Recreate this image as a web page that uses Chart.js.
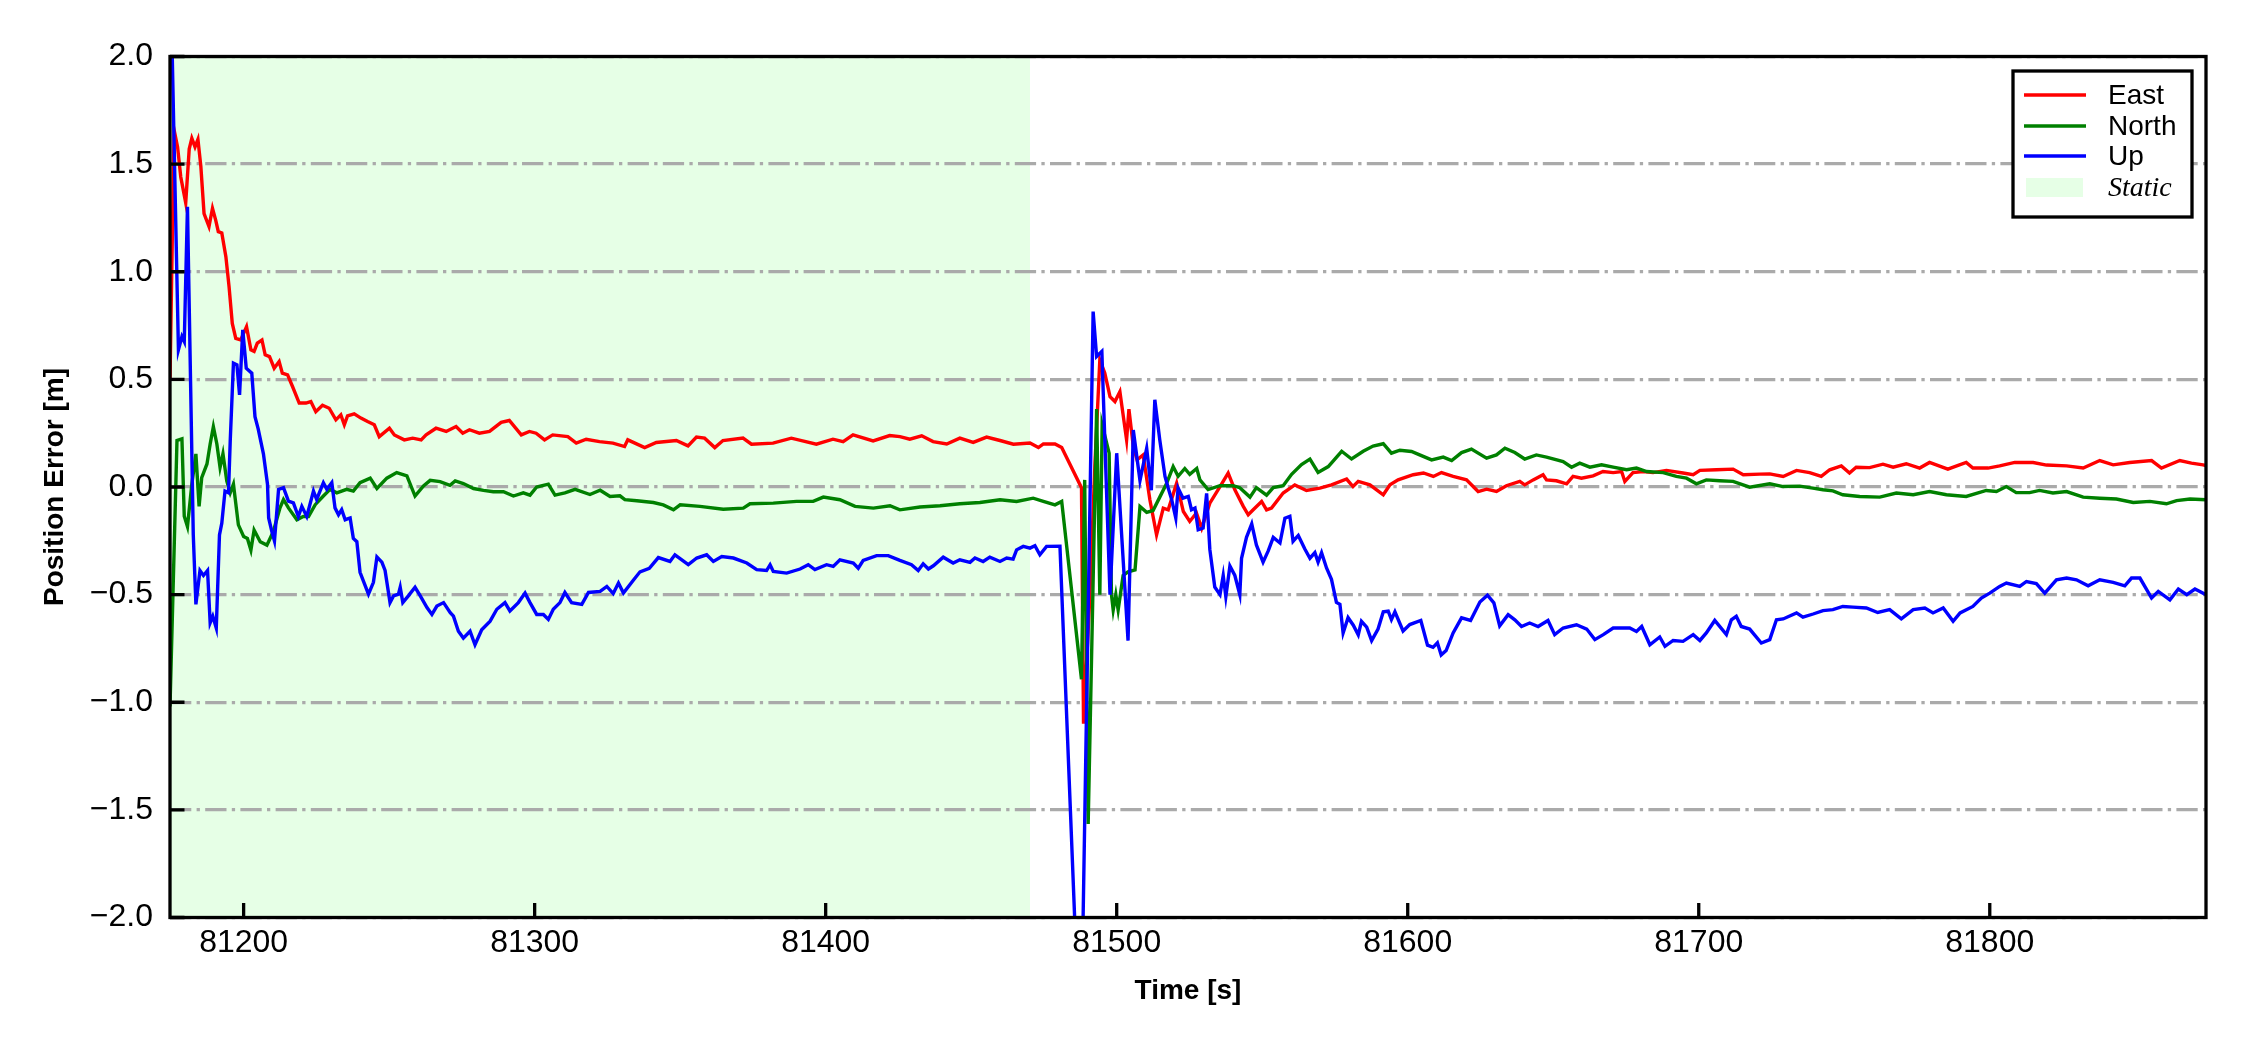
<!DOCTYPE html>
<html><head><meta charset="utf-8">
<script src="https://cdn.jsdelivr.net/npm/chart.js@4.4.1/dist/chart.umd.min.js"></script>
<style>html,body{margin:0;padding:0;background:#fff;}#wrap{width:2250px;height:1050px;}</style>
</head><body><div id="wrap"><canvas id="c" width="2250" height="1050"></canvas></div>
<script>
// ---------------- data ----------------
const eastT = [81174.7,81176.1,81177.3,81178.4,81180.1,81181.3,81182.2,81183.3,81184.3,81185.3,81186.4,81188.1,81189.3,81190.4,81191.3,81192.5,81193.9,81195.0,81196.1,81197.3,81199.0,81201.0,81202.5,81203.6,81204.7,81206.3,81207.4,81208.9,81210.5,81212.2,81213.3,81215.1,81216.8,81219.1,81221.4,81223.1,81224.8,81227.1,81229.4,81231.7,81233.4,81234.6,81235.7,81238.0,81240.3,81242.6,81244.9,81246.6,81250.1,81251.8,81255.2,81258.1,81261.0,81262.7,81266.1,81269.6,81273.0,81275.3,81277.6,81281.0,81284.5,81288.5,81291.3,81295.4,81298.2,81300.5,81303.4,81306.2,81311.4,81314.3,81317.7,81322.3,81326.9,81330.9,81332.0,81337.8,81341.8,81348.7,81352.7,81355.6,81358.4,81361.9,81364.7,81371.6,81374.5,81381.9,81388.2,81396.8,81402.5,81406.0,81409.4,81416.3,81422.0,81425.5,81428.9,81433.0,81436.9,81441.6,81446.1,81450.7,81455.3,81459.9,81464.5,81470.2,81473.1,81474.8,81478.8,81481.1,81487.9,81488.6,81490.8,81492.5,81494.2,81495.9,81497.7,81499.4,81501.1,81503.4,81504.2,81505.7,81507.0,81509.1,81511.4,81513.7,81516.0,81517.7,81520.6,81522.9,81525.1,81527.4,81529.2,81532.0,81535.5,81538.3,81540.6,81543.5,81545.2,81546.9,81549.8,81551.5,81553.2,81557.2,81561.2,81565.2,81569.8,81573.8,81579.0,81581.2,81583.0,81587.0,81591.6,81593.9,81596.7,81601.9,81605.4,81608.8,81611.6,81615.6,81620.2,81624.2,81627.1,81630.5,81633.9,81638.5,81640.2,81643.1,81646.5,81647.7,81651.1,81654.6,81656.8,81659.7,81663.7,81667.1,81670.6,81673.5,81674.6,81677.4,81680.9,81684.3,81688.9,81694.6,81698.1,81700.4,81706.1,81711.8,81715.3,81721.0,81724.4,81729.0,81733.6,81738.1,81742.1,81745.0,81749.0,81751.8,81754.1,81758.7,81763.3,81766.8,81771.3,81775.9,81779.3,81785.6,81791.9,81794.2,81799.4,81803.4,81808.6,81814.9,81819.5,81826.4,81832.1,81837.8,81842.4,81848.1,81855.6,81859.0,81865.3,81869.3,81873.3,81874.3];
const eastV = [0.50,1.66,1.58,1.44,1.32,1.57,1.62,1.58,1.615,1.49,1.27,1.21,1.295,1.24,1.186,1.18,1.07,0.93,0.76,0.69,0.683,0.745,0.637,0.63,0.668,0.683,0.614,0.606,0.552,0.583,0.529,0.521,0.467,0.39,0.39,0.397,0.35,0.38,0.366,0.312,0.335,0.289,0.33,0.34,0.32,0.304,0.289,0.234,0.273,0.242,0.219,0.227,0.219,0.242,0.273,0.258,0.281,0.25,0.266,0.25,0.258,0.30,0.309,0.242,0.258,0.25,0.219,0.242,0.234,0.204,0.222,0.211,0.204,0.188,0.219,0.183,0.207,0.216,0.191,0.232,0.227,0.183,0.216,0.227,0.199,0.204,0.227,0.199,0.222,0.211,0.242,0.214,0.239,0.234,0.222,0.238,0.211,0.20,0.227,0.207,0.232,0.216,0.199,0.204,0.183,0.20,0.20,0.183,-0.003,-1.10,-0.50,0.10,0.59,0.53,0.42,0.397,0.443,0.219,0.362,0.188,0.126,0.149,-0.059,-0.222,-0.098,-0.106,0.018,-0.114,-0.16,-0.121,-0.191,-0.075,0.002,0.065,-0.013,-0.09,-0.129,-0.106,-0.067,-0.106,-0.098,-0.028,0.01,-0.016,-0.005,0.01,0.037,0.002,0.026,0.01,-0.036,0.01,0.033,0.057,0.065,0.049,0.067,0.049,0.033,-0.021,-0.01,-0.021,0.006,0.026,0.01,0.033,0.057,0.033,0.029,0.015,0.049,0.041,0.052,0.072,0.067,0.072,0.026,0.067,0.072,0.067,0.077,0.065,0.057,0.077,0.08,0.083,0.057,0.06,0.061,0.049,0.077,0.067,0.049,0.08,0.098,0.065,0.092,0.09,0.106,0.092,0.108,0.088,0.114,0.083,0.114,0.088,0.088,0.098,0.114,0.114,0.102,0.098,0.088,0.123,0.103,0.114,0.123,0.088,0.123,0.111,0.103,0.10];

const northT = [81174.7,81177.1,81178.8,81179.6,81180.7,81182.2,81183.6,81184.7,81185.6,81187.4,81188.5,81189.6,81190.8,81191.9,81192.9,81194.2,81195.4,81196.5,81198.2,81200.0,81201.3,81202.5,81203.6,81205.7,81208.0,81210.2,81212.5,81213.7,81215.4,81218.3,81220.5,81222.3,81224.6,81227.4,81229.7,81232.0,81235.4,81237.7,81240.0,81243.5,81245.8,81249.2,81252.6,81256.1,81258.9,81261.8,81264.1,81267.5,81270.9,81272.7,81275.5,81279.0,81282.4,81285.8,81289.3,81292.7,81296.1,81298.4,81300.7,81304.7,81307.0,81310.4,81313.9,81319.0,81322.5,81325.9,81329.3,81331.0,81335.1,81340.8,81344.2,81347.7,81350.0,81356.8,81364.8,81371.7,81374.0,81382.0,81390.0,81395.7,81399.2,81404.9,81410.1,81416.4,81422.1,81425.5,81432.4,81439.3,81446.1,81453.0,81459.9,81465.6,81471.3,81474.8,81478.8,81481.1,81487.9,81489.0,81490.2,81493.1,81494.2,81495.0,81497.4,81498.2,81498.8,81499.7,81500.5,81502.2,81503.9,81506.3,81508.0,81510.3,81512.5,81514.8,81517.1,81519.4,81521.1,81523.4,81525.1,81527.5,81528.6,81531.4,81535.5,81540.0,81542.3,81545.8,81548.0,81551.5,81553.8,81557.2,81560.1,81563.5,81566.4,81569.2,81572.7,81577.3,81580.7,81584.7,81588.1,81591.6,81594.4,81597.3,81601.3,81604.1,81608.2,81612.2,81615.1,81618.5,81621.9,81627.1,81630.5,81633.4,81636.8,81640.2,81644.2,81647.7,81653.4,81656.3,81659.1,81662.6,81666.6,81670.6,81675.2,81678.6,81682.1,81687.8,81692.3,81695.8,81699.2,81702.6,81707.2,81711.8,81717.5,81724.4,81729.0,81734.7,81739.2,81742.7,81746.1,81749.5,81755.3,81762.2,81767.9,81773.7,81779.3,81785.1,81791.9,81798.8,81802.3,81805.7,81809.1,81813.7,81817.1,81821.7,81826.4,81832.1,81837.8,81843.5,81849.3,81855.0,81860.7,81864.2,81868.8,81874.3];
const northV = [-1.02,0.216,0.224,-0.136,-0.184,0.013,0.154,-0.09,0.044,0.107,0.20,0.28,0.20,0.091,0.154,0.028,-0.027,0.013,-0.176,-0.23,-0.239,-0.293,-0.20,-0.254,-0.27,-0.207,-0.097,-0.058,-0.097,-0.152,-0.137,-0.137,-0.082,-0.042,-0.011,-0.027,-0.011,-0.019,0.02,0.041,-0.007,0.041,0.067,0.052,-0.042,0.005,0.031,0.025,0.008,0.028,0.016,-0.007,-0.016,-0.022,-0.022,-0.042,-0.027,-0.038,0.0,0.013,-0.038,-0.027,-0.011,-0.035,-0.015,-0.044,-0.041,-0.059,-0.064,-0.072,-0.083,-0.106,-0.083,-0.09,-0.103,-0.098,-0.078,-0.075,-0.067,-0.067,-0.047,-0.059,-0.09,-0.098,-0.087,-0.106,-0.093,-0.087,-0.078,-0.072,-0.059,-0.067,-0.052,-0.067,-0.083,-0.067,-0.893,0.033,-1.566,0.362,-0.50,0.29,0.157,-0.50,-0.571,-0.50,-0.571,-0.411,-0.394,-0.385,-0.091,-0.118,-0.109,-0.047,0.015,0.095,0.05,0.086,0.059,0.086,0.033,-0.012,0.006,0.006,-0.003,-0.047,-0.003,-0.038,-0.003,0.006,0.059,0.104,0.13,0.068,0.095,0.166,0.13,0.166,0.19,0.201,0.157,0.171,0.165,0.149,0.126,0.139,0.123,0.16,0.176,0.134,0.149,0.18,0.16,0.13,0.149,0.139,0.118,0.092,0.111,0.092,0.103,0.092,0.08,0.088,0.072,0.067,0.049,0.041,0.015,0.033,0.029,0.026,-0.001,0.015,0.002,0.004,-0.005,-0.013,-0.018,-0.036,-0.044,-0.047,-0.028,-0.036,-0.021,-0.036,-0.044,-0.016,-0.021,0.002,-0.026,-0.026,-0.016,-0.028,-0.021,-0.047,-0.052,-0.056,-0.072,-0.067,-0.078,-0.063,-0.056,-0.059];

const upT = [81174.7,81177.6,81178.8,81179.6,81180.7,81182.7,81183.6,81185.0,81186.2,81187.6,81188.5,81189.4,81190.6,81191.7,81192.5,81193.6,81194.8,81195.4,81196.5,81197.7,81198.6,81199.7,81200.9,81202.8,81203.9,81205.0,81206.8,81208.2,81208.6,81209.7,81210.6,81212.0,81213.7,81215.4,81217.1,81218.8,81220.0,81221.7,81224.0,81225.1,81227.4,81228.6,81230.3,81231.4,81232.6,81233.7,81234.9,81236.6,81237.7,81238.9,81240.0,81242.9,81244.6,81245.8,81247.5,81248.6,81250.3,81251.5,81253.2,81253.8,81254.7,81256.6,81258.9,81260.7,81263.0,81264.7,81266.4,81268.7,81271.0,81272.1,81273.8,81275.5,81277.8,81279.5,81281.8,81284.7,81287.0,81289.8,81291.5,81294.4,81296.7,81298.4,81300.7,81303.0,81304.7,81306.4,81308.7,81310.4,81312.7,81316.2,81318.5,81322.5,81324.8,81327.0,81328.8,81330.5,81333.9,81336.2,81339.4,81342.5,81346.5,81348.2,81352.8,81355.7,81359.1,81361.4,81364.3,81368.3,81372.9,81376.3,81379.7,81380.9,81382.0,81386.6,81391.2,81394.0,81396.3,81400.3,81402.6,81404.9,81409.5,81411.2,81412.9,81417.5,81421.5,81425.5,81429.5,81431.8,81433.5,81435.3,81437.0,81440.4,81443.8,81446.1,81449.6,81451.3,81454.1,81456.4,81459.9,81462.2,81464.4,81465.6,81467.9,81470.2,81471.9,81473.6,81475.9,81480.5,81487.6,81491.9,81493.1,81494.9,81497.7,81500.0,81503.9,81505.7,81508.0,81510.3,81511.9,81513.1,81514.8,81516.6,81517.7,81518.9,81520.3,81521.1,81522.8,81524.6,81525.7,81526.9,81528.0,81529.7,81530.9,81532.0,81533.7,81535.5,81536.6,81537.5,81538.9,81540.6,81542.3,81542.9,81544.6,81546.4,81548.0,81550.3,81552.1,81553.8,81556.1,81557.8,81559.5,81560.6,81562.4,81564.6,81566.4,81568.1,81569.2,81570.4,81572.1,81573.8,81575.5,81576.7,81577.8,81579.5,81581.3,81583.0,81584.1,81585.9,81587.6,81589.8,81591.6,81593.3,81594.4,81595.6,81598.4,81600.7,81604.5,81606.8,81608.7,81610.2,81611.5,81613.2,81615.6,81618.5,81621.6,81624.8,81627.4,81629.6,81631.6,81634.5,81636.8,81639.1,81641.9,81644.8,81648.2,81650.5,81653.4,81658.0,81661.5,81664.3,81667.2,81670.6,81676.3,81678.6,81680.4,81683.2,81686.6,81688.4,81691.2,81694.6,81698.1,81700.4,81702.6,81705.5,81709.5,81711.2,81712.9,81714.6,81717.5,81721.5,81724.4,81726.7,81729.0,81733.6,81735.8,81739.3,81742.7,81746.1,81749.5,81753.0,81757.6,81761.5,81765.6,81769.6,81773.7,81777.7,81780.5,81784.0,81787.4,81789.8,81794.2,81797.1,81800.0,81803.4,81805.7,81810.3,81812.6,81816.0,81818.9,81822.9,81826.4,81829.8,81833.8,81837.8,81842.4,81846.4,81848.7,81851.6,81855.6,81857.9,81861.9,81864.8,81867.7,81870.5,81874.3];
const upV = [2.5,0.637,0.699,0.676,1.302,-0.223,-0.545,-0.388,-0.411,-0.388,-0.631,-0.60,-0.655,-0.223,-0.168,-0.019,-0.027,0.216,0.575,0.567,0.428,0.73,0.552,0.529,0.327,0.27,0.154,0.013,-0.144,-0.207,-0.251,-0.011,-0.003,-0.066,-0.074,-0.137,-0.09,-0.137,-0.019,-0.058,0.02,-0.011,0.02,-0.097,-0.129,-0.105,-0.152,-0.144,-0.239,-0.254,-0.396,-0.498,-0.443,-0.325,-0.349,-0.388,-0.537,-0.506,-0.498,-0.466,-0.537,-0.506,-0.466,-0.506,-0.56,-0.592,-0.553,-0.537,-0.584,-0.60,-0.67,-0.702,-0.67,-0.733,-0.663,-0.623,-0.568,-0.537,-0.576,-0.537,-0.493,-0.537,-0.592,-0.592,-0.615,-0.568,-0.537,-0.49,-0.537,-0.545,-0.49,-0.485,-0.462,-0.495,-0.446,-0.493,-0.433,-0.394,-0.378,-0.328,-0.346,-0.315,-0.361,-0.33,-0.315,-0.346,-0.323,-0.33,-0.353,-0.384,-0.388,-0.361,-0.392,-0.40,-0.381,-0.361,-0.384,-0.361,-0.369,-0.338,-0.353,-0.377,-0.341,-0.319,-0.319,-0.341,-0.361,-0.388,-0.357,-0.381,-0.366,-0.326,-0.353,-0.338,-0.35,-0.33,-0.346,-0.326,-0.346,-0.33,-0.335,-0.292,-0.276,-0.284,-0.273,-0.315,-0.276,-0.275,-2.7,0.815,0.606,0.63,-0.50,0.157,-0.714,0.265,0.03,0.18,-0.015,0.405,0.219,0.049,-0.005,-0.059,-0.144,-0.005,-0.052,-0.044,-0.106,-0.098,-0.199,-0.191,-0.03,-0.29,-0.465,-0.50,-0.411,-0.509,-0.367,-0.411,-0.50,-0.331,-0.234,-0.171,-0.269,-0.349,-0.296,-0.234,-0.26,-0.145,-0.136,-0.252,-0.225,-0.287,-0.331,-0.305,-0.349,-0.305,-0.376,-0.429,-0.536,-0.545,-0.678,-0.607,-0.642,-0.687,-0.624,-0.651,-0.714,-0.66,-0.58,-0.577,-0.616,-0.58,-0.669,-0.639,-0.62,-0.735,-0.745,-0.724,-0.78,-0.76,-0.678,-0.608,-0.62,-0.534,-0.503,-0.538,-0.645,-0.593,-0.617,-0.648,-0.632,-0.648,-0.62,-0.686,-0.655,-0.64,-0.66,-0.709,-0.686,-0.655,-0.655,-0.671,-0.648,-0.733,-0.697,-0.74,-0.713,-0.717,-0.686,-0.713,-0.678,-0.62,-0.686,-0.617,-0.601,-0.648,-0.66,-0.725,-0.709,-0.617,-0.613,-0.585,-0.605,-0.59,-0.574,-0.57,-0.555,-0.558,-0.562,-0.583,-0.57,-0.613,-0.57,-0.562,-0.585,-0.562,-0.624,-0.585,-0.555,-0.516,-0.493,-0.462,-0.446,-0.462,-0.439,-0.449,-0.493,-0.431,-0.423,-0.431,-0.459,-0.431,-0.443,-0.459,-0.423,-0.423,-0.516,-0.485,-0.524,-0.474,-0.50,-0.474,-0.50];

const seriesNames = ['East', 'North', 'Up'];
const staticLabel = 'Static';
const staticRange = [81174.7, 81470.2];
const xRange = [81174.7, 81874.3];
const yRange = [-2, 2];
const xTicks = [81200, 81300, 81400, 81500, 81600, 81700, 81800];
const xTickLabels = ['81200', '81300', '81400', '81500', '81600', '81700', '81800'];
const yTicks = [-2, -1.5, -1, -0.5, 0, 0.5, 1, 1.5, 2];
const yTickLabels = ['\u22122.0', '\u22121.5', '\u22121.0', '\u22120.5', '0.0', '0.5', '1.0', '1.5', '2.0'];
const xTitle = 'Time [s]';
const yTitle = 'Position Error [m]';

// ---------------- styles ----------------
const seriesColors = ['#ff0000', '#008000', '#0000ff'];
const staticColor = '#e6ffe6';
const SANS = '"Liberation Sans", Arial, Helvetica, sans-serif';
const SERIF = '"Liberation Serif", "Times New Roman", serif';

function pts(T, V) { return T.map((t, i) => ({x: t, y: V[i]})); }

const decor = {
  id: 'decor',
  beforeDraw(chart) {
    const {ctx, chartArea: a, scales: {x}} = chart;
    ctx.save();
    ctx.fillStyle = '#ffffff';
    ctx.fillRect(0, 0, chart.width, chart.height);
    const x0 = Math.max(a.left, x.getPixelForValue(staticRange[0]));
    const x1 = Math.min(a.right, x.getPixelForValue(staticRange[1]));
    ctx.fillStyle = staticColor;
    ctx.fillRect(x0, a.top, x1 - x0, a.bottom - a.top);
    ctx.restore();
  },
  afterDatasetsDraw(chart) {
    const {ctx, chartArea: a, scales: {x, y}} = chart;
    ctx.save();
    // inward ticks
    ctx.strokeStyle = '#000';
    ctx.lineWidth = 3.3;
    const TL = 14.5;
    ctx.beginPath();
    yTicks.forEach(v => { const py = y.getPixelForValue(v); ctx.moveTo(a.left, py); ctx.lineTo(a.left + TL, py); });
    xTicks.forEach(v => { const px = x.getPixelForValue(v); ctx.moveTo(px, a.bottom); ctx.lineTo(px, a.bottom - TL); });
    ctx.stroke();
    // frame
    ctx.lineWidth = 3.3;
    ctx.strokeRect(a.left, a.top, a.right - a.left, a.bottom - a.top);
    // legend
    const L = {rightGap: 14, topGap: 14.5, w: 179, h: 146, rows: [24, 55, 85, 117], s0: 11, s1: 73, tx: 95};
    const bx = a.right - L.rightGap - L.w, by = a.top + L.topGap;
    ctx.fillStyle = '#fff';
    ctx.fillRect(bx, by, L.w, L.h);
    ctx.lineWidth = 3.3;
    ctx.strokeStyle = '#000';
    ctx.strokeRect(bx, by, L.w, L.h);
    ctx.textBaseline = 'middle';
    ctx.textAlign = 'left';
    chart.data.datasets.forEach((ds, i) => {
      const ry = by + L.rows[i];
      ctx.strokeStyle = ds.borderColor;
      ctx.lineWidth = ds.borderWidth;
      ctx.beginPath(); ctx.moveTo(bx + L.s0, ry); ctx.lineTo(bx + L.s1, ry); ctx.stroke();
      ctx.fillStyle = '#000';
      ctx.font = '28px ' + SANS;
      ctx.fillText(ds.label, bx + L.tx, ry + 1);
    });
    const sy = by + L.rows[3];
    ctx.fillStyle = staticColor;
    ctx.fillRect(bx + 13, sy - 10, 57, 19);
    ctx.fillStyle = '#000';
    ctx.font = 'italic 28px ' + SERIF;
    ctx.fillText(staticLabel, bx + L.tx, sy + 1);
    ctx.restore();
  }
};

const datasets = [
  {label: seriesNames[0], data: pts(eastT, eastV), borderColor: seriesColors[0], order: 3},
  {label: seriesNames[1], data: pts(northT, northV), borderColor: seriesColors[1], order: 2},
  {label: seriesNames[2], data: pts(upT, upV), borderColor: seriesColors[2], order: 1}
].map(d => Object.assign(d, {borderWidth: 3.4, pointRadius: 0, tension: 0, fill: false, backgroundColor: d.borderColor}));

new Chart(document.getElementById('c'), {
  type: 'line',
  data: {datasets},
  plugins: [decor],
  options: {
    responsive: false,
    devicePixelRatio: 1,
    animation: false,
    events: [],
    layout: {padding: {left: 0, right: 44, top: 56.5, bottom: 0}},
    plugins: {legend: {display: false}, tooltip: {enabled: false}},
    scales: {
      x: {
        type: 'linear', min: xRange[0], max: xRange[1],
        afterBuildTicks: s => { s.ticks = xTicks.map(v => ({value: v})); },
        afterFit: s => { s.height = 132.5; },
        grid: {display: false, drawTicks: false},
        border: {display: false},
        ticks: {autoSkip: false, maxRotation: 0, padding: 6, color: '#000',
          font: {family: SANS, size: 32},
          callback: (v, i) => xTickLabels[i]},
        title: {display: true, text: xTitle, color: '#000', font: {family: SANS, size: 28, weight: 'bold'}, padding: {top: 0, bottom: 42}}
      },
      y: {
        type: 'linear', min: yRange[0], max: yRange[1],
        afterBuildTicks: s => { s.ticks = yTicks.map(v => ({value: v})); },
        afterFit: s => { s.width = 170; },
        grid: {display: true, drawTicks: false, color: '#aaaaaa', lineWidth: 3.3},
        border: {display: false, dash: [21.3, 5.3, 3.3, 5.3]},
        ticks: {autoSkip: false, padding: 17, color: '#000',
          font: {family: SANS, size: 32},
          callback: (v, i) => yTickLabels[i]},
        title: {display: true, text: yTitle, color: '#000', font: {family: SANS, size: 28, weight: 'bold'}, padding: {top: 38, bottom: 0}}
      }
    }
  }
});
</script>
</body></html>
